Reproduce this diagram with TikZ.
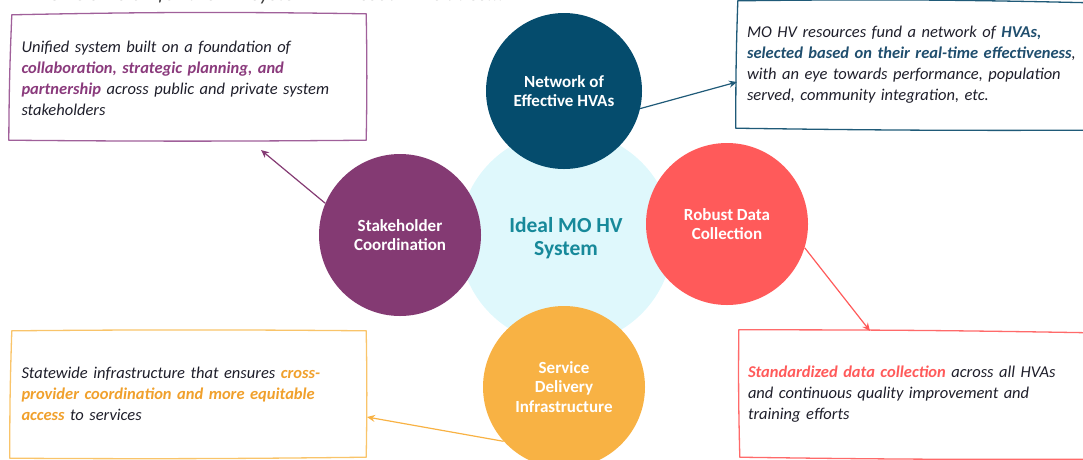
\documentclass[tikz,border=0pt]{standalone}
\usepackage{fontspec}
\setmainfont{Carlito}
\usetikzlibrary{arrows.meta}
\definecolor{navyc}{HTML}{054C6D}
\definecolor{purplec}{HTML}{843A73}
\definecolor{redc}{HTML}{FF5A5A}
\definecolor{orangec}{HTML}{F8B244}
\definecolor{lightc}{HTML}{DFF8FC}
\definecolor{tealc}{HTML}{17899A}
\definecolor{ptext}{HTML}{8A3A7C}
\definecolor{ntext}{HTML}{1F4E6E}
\definecolor{otext}{HTML}{F0A02C}
\definecolor{rtext}{HTML}{FF5A5A}
\definecolor{bodyc}{HTML}{1E1E2A}
\definecolor{pborder}{HTML}{A0609A}
\definecolor{nborder}{HTML}{1F5A78}
\definecolor{oborder}{HTML}{F9C46A}
\definecolor{rborder}{HTML}{FF6A6A}
\definecolor{topc}{HTML}{404040}
\tikzset{
  bubble/.style={circle, inner sep=0pt, text=white, align=center,
    font=\fontsize{17}{19.5}\selectfont\bfseries},
  infobox/.style={rectangle, inner xsep=9pt, inner ysep=0pt, minimum height=126pt,
    text width=334pt, align=left, text=bodyc,
    font=\fontsize{16.5}{21}\selectfont\itshape},
  sketchline/.style={line width=1.3pt, line join=round},
  link/.style={line width=1.2pt, -{Stealth[length=8pt,width=7pt]}}
}
\begin{document}
\begin{tikzpicture}[x=1pt,y=-1pt]
\useasboundingbox (0,0) rectangle (1083,459);
% heading, cut off by the top edge as in the reference
\node[anchor=base west, inner sep=0pt, text=topc, font=\fontsize{21.5}{23}\selectfont\itshape] (heading) at (48,0) {OVC's vision for the HV system in Missouri includes...};
% central circle
\node[circle, fill=lightc, minimum size=214pt, inner sep=0pt, text=tealc, align=center,
  font=\fontsize{21.5}{23.5}\selectfont\bfseries] (core) at (566,238) {Ideal MO HV\\System};
% satellites
\node[bubble, fill=navyc, minimum size=156pt] (net) at (564,91) {Network of\\Effective HVAs};
\node[bubble, fill=purplec, minimum size=162pt] (stake) at (400,235) {Stakeholder\\Coordination};
\node[bubble, fill=redc, minimum size=162pt] (data) at (727,224) {Robust Data\\Collection};
\node[bubble, fill=orangec, minimum size=162pt] (serv) at (564,387) {Service\\Delivery\\Infrastructure};
% boxes
\node[infobox, minimum width=355pt] (pbox) at (188.5,78)
  {Unified system built on a foundation of\\
   \textcolor{ptext}{\bfseries collaboration, strategic planning, and}\\
   \textcolor{ptext}{\bfseries partnership} across public and private system\\
   stakeholders};
\node[infobox, minimum width=352pt] (nbox) at (914,65)
  {MO HV resources fund a network of \textcolor{ntext}{\bfseries HVAs,}\\
   \textcolor{ntext}{\bfseries selected based on their real-time effectiveness},\\
   with an eye towards performance, population\\
   served, community integration, etc.};
\node[infobox, minimum width=355pt] (obox) at (188.5,394)
  {Statewide infrastructure that ensures \textcolor{otext}{\bfseries cross-}\\
   \textcolor{otext}{\bfseries provider coordination and more equitable}\\
   \textcolor{otext}{\bfseries access} to services};
\node[infobox, minimum width=350pt] (rbox) at (915,394)
  {\textcolor{rtext}{\bfseries Standardized data collection} across all HVAs\\
   and continuous quality improvement and\\
   training efforts};
% sketchy outlines
\draw[sketchline, pborder] ([shift={(1,0)}]pbox.north west) to[bend left=1] ([shift={(0,-1)}]pbox.north east)
  to[bend left=1] ([shift={(0,-1)}]pbox.south east) to[bend left=0.5] ([shift={(-2,-1)}]pbox.south west)
  to[bend left=1] cycle;
\draw[sketchline, nborder] ([shift={(0,-1)}]nbox.north west) to[bend left=1] ([shift={(0,1)}]nbox.north east)
  -- ([shift={(0,2)}]nbox.south east) to[bend left=0.5] ([shift={(-2,0)}]nbox.south west)
  to[bend left=1] cycle;
\draw[sketchline, oborder] ([shift={(1,0)}]obox.north west) to[bend left=0.5] ([shift={(0,0)}]obox.north east)
  to[bend left=1] ([shift={(0,0)}]obox.south east) to[bend left=0.5] ([shift={(-1,1)}]obox.south west)
  to[bend left=1] cycle;
\draw[sketchline, rborder] ([shift={(0,-1)}]rbox.north west) to[bend left=0.5] ([shift={(0,2)}]rbox.north east)
  -- ([shift={(0,2)}]rbox.south east) to[bend left=0.5] ([shift={(1,0)}]rbox.south west)
  to[bend left=1] cycle;
% connectors
\coordinate (ptip) at (261,150);
\coordinate (ntip) at (737,82);
\coordinate (rtip) at (870,331);
\coordinate (otip) at (367,417);
\draw[link, purplec] (stake.157) -- (ptip);
\draw[link, nborder] (net.-13) -- (ntip);
\draw[link, redc] (data.-17) -- (rtip);
\draw[link, orangec] (serv.222) -- (otip);
\end{tikzpicture}
\end{document}
